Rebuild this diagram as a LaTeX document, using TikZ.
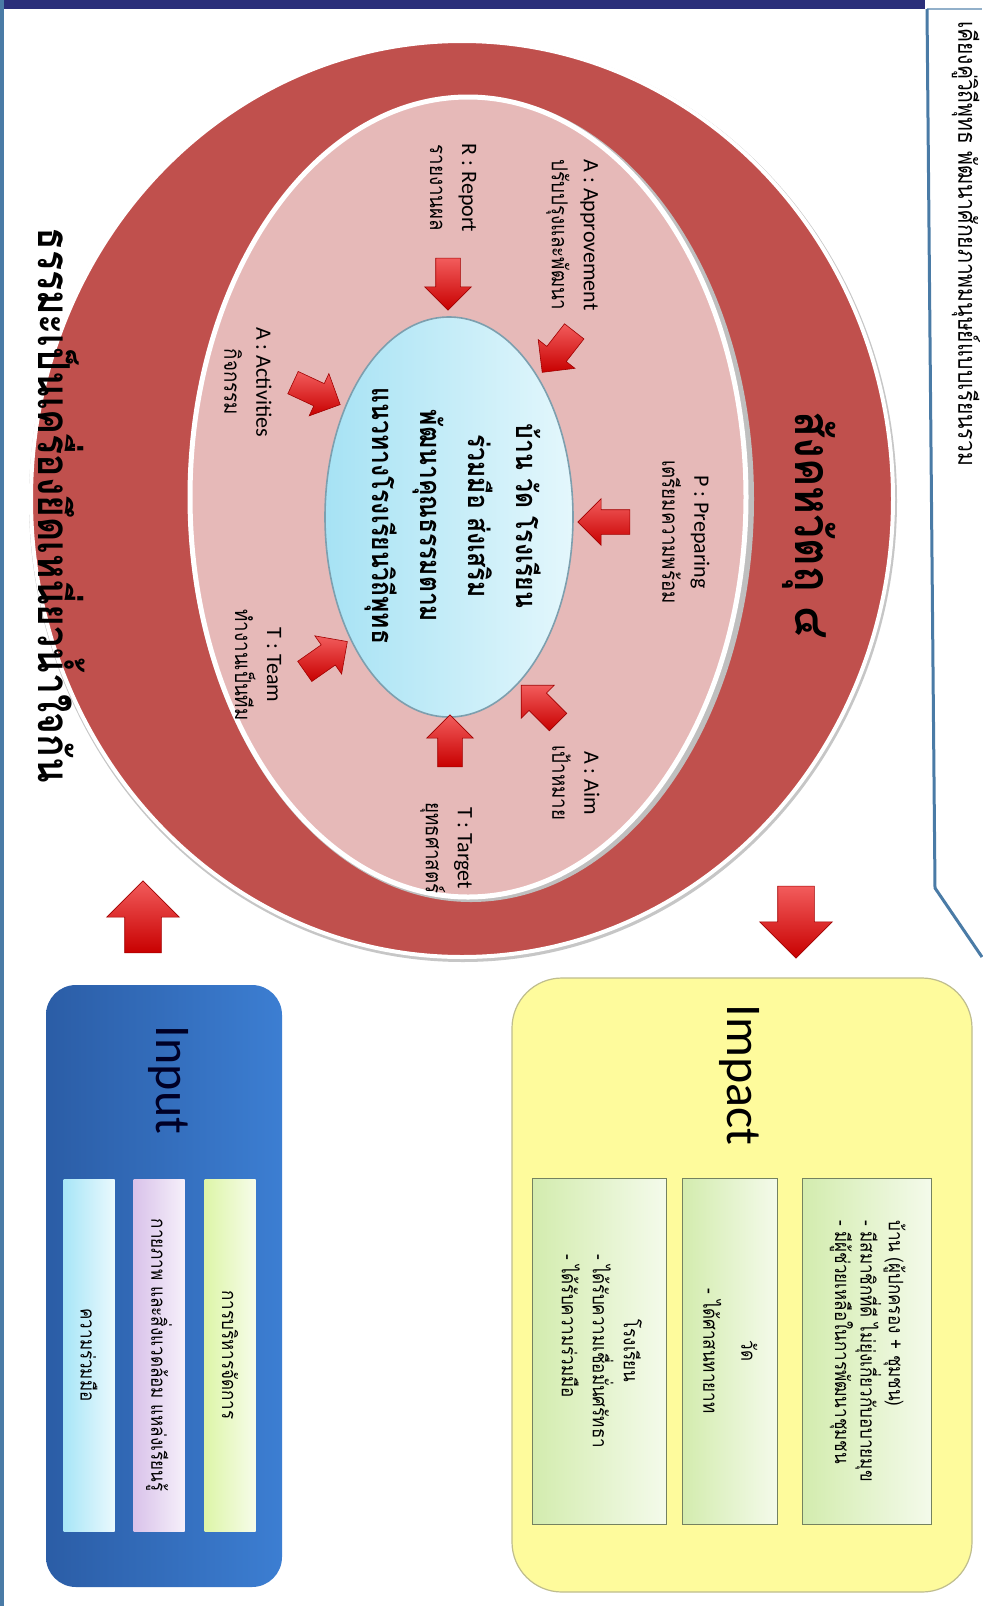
\documentclass[tikz,border=0pt]{standalone}
\usepackage{fontspec}
\setmainfont{Carlito}
\newfontfamily\thai[Script=Thai,FakeStretch=0.85]{Loma}
\usetikzlibrary{shapes.arrows}

\definecolor{ringred}{HTML}{C0504D}
\definecolor{ringpink}{HTML}{E6B9B8}
\definecolor{navy}{HTML}{2B2F7A}
\definecolor{callblue}{HTML}{4A7BA6}
\definecolor{arrlight}{HTML}{F25C5C}
\definecolor{arrdark}{HTML}{C80000}
\definecolor{coreleft}{HTML}{A6E2F4}
\definecolor{coreright}{HTML}{E4F7FC}
\definecolor{ingreen}{HTML}{DDF5A8}
\definecolor{inviolet}{HTML}{D9C2EA}
\definecolor{incyan}{HTML}{A8E6F7}
\definecolor{imgreen}{HTML}{D3ECAE}
\definecolor{inblue1}{HTML}{2B5DA6}
\definecolor{inblue2}{HTML}{3C7ED2}
\definecolor{impyellow}{HTML}{FEFB9C}

\tikzset{
  lbl/.style={rotate=-90, align=center, font=\fontsize{11}{16}\selectfont},
  ptr/.style={single arrow, rotate=#1, minimum height=26pt, inner xsep=0pt, inner ysep=6pt,
    single arrow head extend=5.5pt, single arrow head indent=0pt, top color=arrlight, bottom color=arrdark,
    draw=arrdark!80!black, line width=0.3pt},
  bigptr/.style={single arrow, rotate=#1, minimum height=36pt, inner xsep=0pt, inner ysep=9pt,
    single arrow head extend=9pt, top color=arrlight, bottom color=arrdark,
    draw=arrdark!80!black, line width=0.3pt},
  ibox/.style={rotate=-90, draw=#1!55!black, line width=0.5pt, left color=#1, right color=#1!25!white,
    inner sep=2pt, font=\thai\fontsize{10}{12.5}\selectfont},
  title/.style={rotate=-90, font=\fontsize{25}{28}\selectfont}
}

\begin{document}
\begin{tikzpicture}[x=0.5pt, y=-0.5pt]
  \useasboundingbox (0,0) rectangle (982,1606);
  \fill[white] (0,0) rectangle (982,1606);
  % frame and callout
  \fill[navy] (0,0) rectangle (925,9);
  \fill[callblue] (0,0) rectangle (4,1606);
  \draw[callblue!60, line width=0.6pt] (927,9) -- (982,9);
  \draw[callblue, line width=1.5pt] (927,9) -- (935,888) -- (982,957);
  \node[rotate=-90, anchor=west, font=\thai\fontsize{12.4}{13}\selectfont] (motto) at (966,14)
    {เคียงคู่วิถีพุทธ พัฒนาศักยภาพมนุษย์แบบเรียนรวม};

  % rings
  \fill[gray!45] (463,501) ellipse [x radius=434, y radius=461];
  \draw[fill=ringred, draw=white, line width=2pt] (462,499) ellipse [x radius=431, y radius=458];
  \fill[gray!50] (471,499) ellipse [x radius=283, y radius=403];
  \draw[fill=ringpink, draw=white, line width=2.5pt] (468,497) ellipse [x radius=278, y radius=400];
  \draw[left color=coreleft, right color=coreright, draw=cyan!30!gray, line width=0.8pt]
    (449,517) ellipse [x radius=124, y radius=200];

  \node[rotate=-90, font={\thai\bfseries\fontsize{25}{27}\selectfont}] (sangaha) at (809,525) {สังคหวัตถุ ๔};
  \node[rotate=-90, font={\thai\bfseries\fontsize{22}{24}\selectfont}] (dhamma) at (62,505)
    {ธรรมะเป็นเครื่องยึดเหนี่ยวน้ำใจกัน};
  \node[rotate=-90, align=center, font={\thai\bfseries\fontsize{14.5}{24}\selectfont}] (core) at (453,516)
    {บ้าน วัด โรงเรียน\\ร่วมมือ ส่งเสริม\\พัฒนาคุณธรรมตาม\\แนวทางโรงเรียนวิถีพุทธ};

  % PATTAR labels
  \node[lbl] (prepL) at (686,532) {P : Preparing\\{\thai เตรียมความพร้อม}};
  \node[lbl] (aimL) at (576,783) {A : Aim\\{\thai เป้าหมาย}};
  \node[lbl] (targL) at (446,848) {T : Target\\{\thai ยุทธศาสตร์}};
  \node[lbl] (teamL) at (258,665) {T : Team\\{\thai ทำงานเป็นทีม}};
  \node[lbl] (actL) at (248,382) {A : Activities\\{\thai กิจกรรม}};
  \node[lbl] (repL) at (453,188) {R : Report\\{\thai รายงานผล}};
  \node[lbl] (apprL) at (572,235) {A : Approvement\\{\thai ปรับปรุงและพัฒนา}};

  \node[ptr=180] (prepA) at (610,522) {};
  \node[ptr=135] (aimA) at (544,708) {};
  \node[ptr=90] (targA) at (450,747) {};
  \node[ptr=35] (teamA) at (321,660) {};
  \node[ptr=-25] (actA) at (311,391) {};
  \node[ptr=-90] (repA) at (448,278) {};
  \node[ptr=-128] (apprA) at (562,347) {};

  % input
  \node[rounded corners=15pt, minimum width=118pt, minimum height=301pt,
    left color=inblue1, right color=inblue2, inner sep=0pt] (inBox) at (164,1286) {};
  \node[title, text=black!85!blue] (inT) at (169,1080) {Input};
  \node[ibox=ingreen, draw=none, minimum width=176pt, minimum height=25.5pt] (manage) at (230,1355) {การบริหารจัดการ};
  \node[ibox=inviolet, draw=none, minimum width=176pt, minimum height=25.5pt] (place) at (159,1355) {กายภาพ และสิ่งแวดล้อม แหล่งเรียนรู้};
  \node[ibox=incyan, draw=none, minimum width=176pt, minimum height=25.5pt] (coop) at (89,1355) {ความร่วมมือ};
  \node[bigptr=90] (inA) at (143,926) {};

  % impact
  \node[rounded corners=25pt, minimum width=230pt, minimum height=307pt,
    fill=impyellow, draw=impyellow!50!gray, line width=0.6pt, inner sep=0pt] (outBox) at (742,1285) {};
  \node[title] (outT) at (740,1075) {Impact};
  \node[ibox=imgreen, minimum width=173pt, minimum height=64.5pt] (home) at (867,1351)
    {\begin{tabular}{@{}l@{}}บ้าน (ผู้ปกครอง + ชุมชน)\\- มีสมาชิกที่ดี ไม่ยุ่งเกี่ยวกับอบายมุข\\- มีผู้ช่วยเหลือในการพัฒนาชุมชน\end{tabular}};
  \node[ibox=imgreen, minimum width=173pt, minimum height=47.5pt,
    font=\thai\fontsize{10}{19}\selectfont] (temple) at (730,1351)
    {\begin{tabular}{@{}l@{}}\multicolumn{1}{@{}c@{}}{วัด}\\- ได้ศาสนทายาท\end{tabular}};
  \node[ibox=imgreen, minimum width=173pt, minimum height=67pt,
    font=\thai\fontsize{10}{15.5}\selectfont] (school) at (599,1351)
    {\begin{tabular}{@{}l@{}}\multicolumn{1}{@{}c@{}}{โรงเรียน}\\- ได้รับความเชื่อมั่นศรัทธา\\- ได้รับความร่วมมือ\end{tabular}};
  \node[bigptr=-90] (outA) at (796,913) {};
\end{tikzpicture}
\end{document}
